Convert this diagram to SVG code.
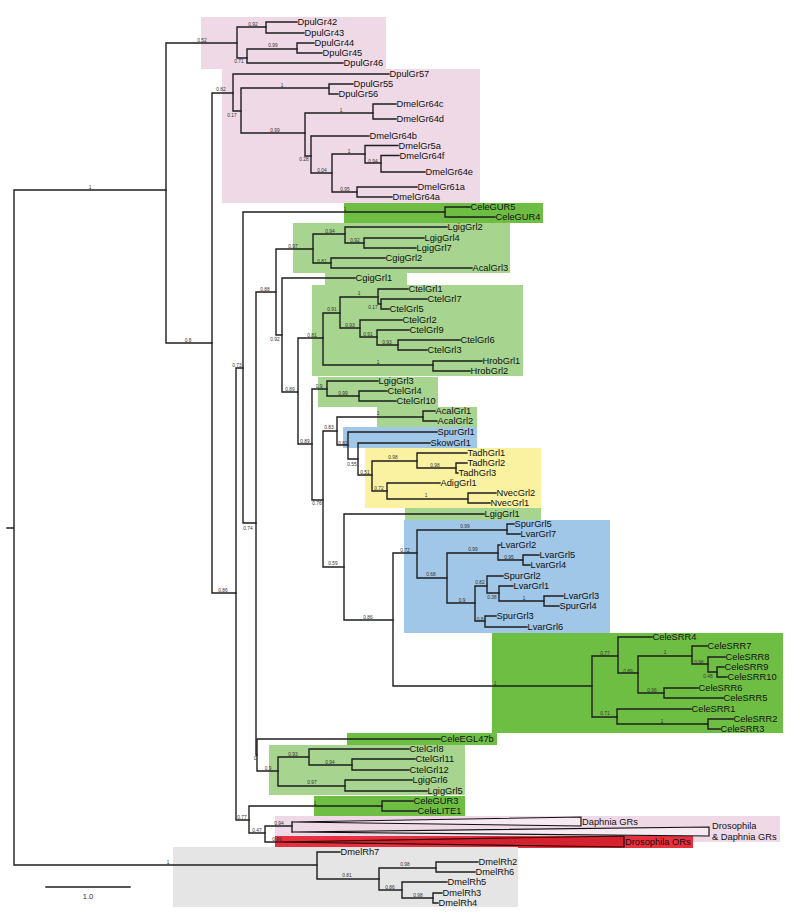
<svg xmlns="http://www.w3.org/2000/svg" width="800" height="923" viewBox="0 0 800 923">
<style>
.br{fill:none;stroke:#1e1e1e;stroke-width:1.4;stroke-linecap:square}
.lf{font-family:"Liberation Sans",Arial,sans-serif;font-size:9.3px;fill:#111}
.sp{font-family:"Liberation Sans",Arial,sans-serif;font-size:4.8px;fill:#333;text-anchor:middle}
.pk{fill:#efd9e6}.dg{fill:#6fbe44}.lg{fill:#a7d48f}.bl{fill:#a0c6e8}.ye{fill:#faf2a1}.gy{fill:#e5e5e5}.rd{fill:#e7303e}
</style>
<rect width="800" height="923" fill="#fff"/>
<g id="clade-boxes">
<rect class="pk" x="201" y="17" width="185" height="52"/>
<rect class="pk" x="222" y="69" width="258" height="134"/>
<rect class="dg" x="344" y="203" width="199" height="20"/>
<rect class="lg" x="293" y="223" width="217" height="50"/>
<rect class="lg" x="325" y="273" width="82" height="12"/>
<rect class="lg" x="312" y="285" width="211" height="91"/>
<rect class="lg" x="318" y="377" width="120" height="30"/>
<rect class="lg" x="377" y="407" width="100" height="20"/>
<rect class="bl" x="343" y="427" width="134" height="21"/>
<rect class="ye" x="365" y="448" width="176" height="60"/>
<rect class="lg" x="405" y="508" width="136" height="12"/>
<rect class="bl" x="404" y="520" width="206" height="113"/>
<rect class="dg" x="492" y="633" width="291" height="100"/>
<rect class="dg" x="347" y="733" width="150" height="12"/>
<rect class="lg" x="269" y="745" width="196" height="50"/>
<rect class="dg" x="314" y="796" width="151" height="20"/>
<rect class="pk" x="275" y="816" width="505" height="26"/>
<rect class="rd" x="275" y="836" width="418" height="12"/>
<rect class="gy" x="173" y="847" width="345" height="60"/>
</g>
<g id="connectors" class="br">
<path d="M7,528H14 M14,190V865 M14,190H166 M14,865H317"/>
<path d="M166,43V343 M166,43H237 M166,343H212"/>
<path d="M237,27V58 M237,27H266 M237,58H247"/>
<path d="M266,22V33 M266,22H297 M266,33H304"/>
<path d="M247,49V63 M247,49H297 M247,63H343"/>
<path d="M297,43V53 M297,43H314 M297,53H322"/>
<path d="M212,93V593 M212,93H233 M212,593H236"/>
<path d="M233,74V111 M233,74H389 M233,111H241"/>
<path d="M241,88V133 M241,88H329 M241,133H305"/>
<path d="M329,84V94 M329,84H353 M329,94H338"/>
<path d="M305,113V156 M305,113H373 M305,156H311"/>
<path d="M373,104V119 M373,104H396 M373,119H396"/>
<path d="M311,136V173 M311,136H369 M311,173H332"/>
<path d="M332,154V192 M332,154H365 M332,192H357"/>
<path d="M365,145.5V163 M365,145.5H398 M365,163H381"/>
<path d="M381,155.5V172 M381,155.5H399 M381,172H425"/>
<path d="M357,187V197 M357,187H417 M357,197H392"/>
<path d="M236,368V820 M236,368H243 M236,820H249"/>
<path d="M243,212V523 M243,212H445 M243,523H256"/>
<path d="M445,207V217 M445,207H470 M445,217H495"/>
<path d="M256,292V755 M256,292H276 M256,755H257"/>
<path d="M257,739V771 M257,739H440 M257,771H278"/>
<path d="M278,757V786 M278,757H309 M278,786H345"/>
<path d="M309,749V765 M309,749H409 M309,765H352"/>
<path d="M352,759V770 M352,759H415 M352,770H409"/>
<path d="M345,780V791 M345,780H412 M345,791H427"/>
<path d="M249,806V833 M249,806H382 M249,833H265"/>
<path d="M382,801V811 M382,801H413 M382,811H417"/>
<path d="M265,826V842 M265,826H292 M265,842H276"/>
<path d="M292,822V832"/>
<path d="M276,249V335 M276,249H313 M276,335H282"/>
<path d="M313,234V263 M313,234H345 M313,263H331"/>
<path d="M345,227V243 M345,227H447 M345,243H364"/>
<path d="M364,238V248 M364,238H424 M364,248H416"/>
<path d="M331,258V268 M331,258H385 M331,268H472"/>
<path d="M282,278V392 M282,278H355 M282,392H298"/>
<path d="M298,338V444 M298,338H323 M298,444H312"/>
<path d="M323,313V365 M323,313H340 M323,365H433"/>
<path d="M340,297V328 M340,297H378 M340,328H360"/>
<path d="M378,289V304 M378,289H408 M378,304H381"/>
<path d="M381,299V309 M381,299H427 M381,309H389"/>
<path d="M360,320V337 M360,320H402 M360,337H377"/>
<path d="M377,330V345 M377,330H409 M377,345H398"/>
<path d="M398,340V350 M398,340H460 M398,350H427"/>
<path d="M433,361V371 M433,361H482 M433,371H470"/>
<path d="M312,389V500 M312,389H327 M312,500H323"/>
<path d="M327,381V396 M327,381H378 M327,396H359"/>
<path d="M359,391V401 M359,391H387 M359,401H396"/>
<path d="M323,431V567 M323,431H337 M323,567H344"/>
<path d="M337,417V445 M337,417H423 M337,445H348"/>
<path d="M423,411V421 M423,411H435 M423,421H437"/>
<path d="M348,432V459 M348,432H437 M348,459H358"/>
<path d="M358,443V475 M358,443H430 M358,475H372"/>
<path d="M372,461V491 M372,461H417 M372,491H387"/>
<path d="M417,453V468 M417,453H467 M417,468H456"/>
<path d="M456,463V473 M456,463H467 M456,473H458"/>
<path d="M387,483V499 M387,483H440 M387,499H468"/>
<path d="M468,493V503 M468,493H496 M468,503H490"/>
<path d="M344,514V620 M344,514H484 M344,620H393"/>
<path d="M393,553V686 M393,553H417 M393,686H592"/>
<path d="M417,530V578 M417,530H507 M417,578H447"/>
<path d="M507,524V534 M507,524H514 M507,534H520"/>
<path d="M447,553V603 M447,553H498 M447,603H475"/>
<path d="M498,545V560 M498,545H500 M498,560H523"/>
<path d="M523,555V565 M523,555H539 M523,565H530"/>
<path d="M475,586V621 M475,586H487 M475,621H485"/>
<path d="M487,576V593 M487,576H503 M487,593H499"/>
<path d="M499,586V601 M499,586H513 M499,601H544"/>
<path d="M544,596V606 M544,596H563 M544,606H559"/>
<path d="M485,616V627 M485,616H496 M485,627H527"/>
<path d="M592,656V717 M592,656H618 M592,717H617"/>
<path d="M618,637V673 M618,637H652 M618,673H638"/>
<path d="M638,656V693 M638,656H692 M638,693H664"/>
<path d="M692,646V664 M692,646H707 M692,664H708"/>
<path d="M708,657V672 M708,657H725 M708,672H717"/>
<path d="M717,667V677 M717,667H724 M717,677H727"/>
<path d="M664,688V698 M664,688H698 M664,698H723"/>
<path d="M617,709V724 M617,709H691 M617,724H708"/>
<path d="M708,719V729 M708,719H733 M708,729H720"/>
<path d="M317,852V879 M317,852H340 M317,879H379"/>
<path d="M379,868V890 M379,868H436 M379,890H402"/>
<path d="M436,862V872 M436,862H478 M436,872H475"/>
<path d="M402,882V898 M402,882H447 M402,898H433"/>
<path d="M433,893V903 M433,893H442 M433,903H438"/>
<path d="M46,887H130"/>
</g>
<g id="collapsed">
<g id="daphnia-grs"><polygon points="292,822 581,817 581,826" fill="#f6e9f1" stroke="#111" stroke-width="1.2"/><text class="lf" x="582" y="825.3">Daphnia GRs</text></g>
<g id="drosophila-daphnia-grs"><polygon points="292,832 709,827 709,836" fill="#f6e9f1" stroke="#111" stroke-width="1.2"/><text class="lf" x="712" y="829.3">Drosophila</text><text class="lf" x="712" y="840.3">&amp; Daphnia GRs</text></g>
<g id="drosophila-ors"><polygon points="276,842 624,836 624,847" fill="#d42230" stroke="#2a0505" stroke-width="1.2"/><text class="lf" x="625" y="845.3" fill="#5c0a12">Drosophila ORs</text></g>
</g>
<g id="leaves" class="lf">
<g id="DpulGr42"><text x="297.5" y="25.3">DpulGr42</text></g>
<g id="DpulGr43"><text x="304.5" y="36.3">DpulGr43</text></g>
<g id="DpulGr44"><text x="314.5" y="46.3">DpulGr44</text></g>
<g id="DpulGr45"><text x="322.5" y="56.3">DpulGr45</text></g>
<g id="DpulGr46"><text x="343.5" y="66.3">DpulGr46</text></g>
<g id="DpulGr57"><text x="389.5" y="77.3">DpulGr57</text></g>
<g id="DpulGr55"><text x="353.5" y="87.3">DpulGr55</text></g>
<g id="DpulGr56"><text x="338.5" y="97.3">DpulGr56</text></g>
<g id="DmelGr64c"><text x="396.5" y="107.3">DmelGr64c</text></g>
<g id="DmelGr64d"><text x="396.5" y="122.3">DmelGr64d</text></g>
<g id="DmelGr64b"><text x="369.5" y="139.3">DmelGr64b</text></g>
<g id="DmelGr5a"><text x="398.5" y="148.8">DmelGr5a</text></g>
<g id="DmelGr64f"><text x="399.5" y="158.8">DmelGr64f</text></g>
<g id="DmelGr64e"><text x="425.5" y="175.3">DmelGr64e</text></g>
<g id="DmelGr61a"><text x="417.5" y="190.3">DmelGr61a</text></g>
<g id="DmelGr64a"><text x="392.5" y="200.3">DmelGr64a</text></g>
<g id="CeleGUR5"><text x="470.5" y="210.3">CeleGUR5</text></g>
<g id="CeleGUR4"><text x="495.5" y="220.3">CeleGUR4</text></g>
<g id="LgigGrl2"><text x="447.5" y="230.3">LgigGrl2</text></g>
<g id="LgigGrl4"><text x="424.5" y="241.3">LgigGrl4</text></g>
<g id="LgigGrl7"><text x="416.5" y="251.3">LgigGrl7</text></g>
<g id="CgigGrl2"><text x="385.5" y="261.3">CgigGrl2</text></g>
<g id="AcalGrl3"><text x="472.5" y="271.3">AcalGrl3</text></g>
<g id="CgigGrl1"><text x="355.5" y="281.3">CgigGrl1</text></g>
<g id="CtelGrl1"><text x="408.5" y="292.3">CtelGrl1</text></g>
<g id="CtelGrl7"><text x="427.5" y="302.3">CtelGrl7</text></g>
<g id="CtelGrl5"><text x="389.5" y="312.3">CtelGrl5</text></g>
<g id="CtelGrl2"><text x="402.5" y="323.3">CtelGrl2</text></g>
<g id="CtelGrl9"><text x="409.5" y="333.3">CtelGrl9</text></g>
<g id="CtelGrl6"><text x="460.5" y="343.3">CtelGrl6</text></g>
<g id="CtelGrl3"><text x="427.5" y="353.3">CtelGrl3</text></g>
<g id="HrobGrl1"><text x="482.5" y="364.3">HrobGrl1</text></g>
<g id="HrobGrl2"><text x="470.5" y="374.3">HrobGrl2</text></g>
<g id="LgigGrl3"><text x="378.5" y="384.3">LgigGrl3</text></g>
<g id="CtelGrl4"><text x="387.5" y="394.3">CtelGrl4</text></g>
<g id="CtelGrl10"><text x="396.5" y="404.3">CtelGrl10</text></g>
<g id="AcalGrl1"><text x="435.5" y="414.3">AcalGrl1</text></g>
<g id="AcalGrl2"><text x="437.5" y="424.3">AcalGrl2</text></g>
<g id="SpurGrl1"><text x="437.5" y="435.3">SpurGrl1</text></g>
<g id="SkowGrl1"><text x="430.5" y="446.3">SkowGrl1</text></g>
<g id="TadhGrl1"><text x="467.5" y="456.3">TadhGrl1</text></g>
<g id="TadhGrl2"><text x="467.5" y="466.3">TadhGrl2</text></g>
<g id="TadhGrl3"><text x="458.5" y="476.3">TadhGrl3</text></g>
<g id="AdigGrl1"><text x="440.5" y="486.3">AdigGrl1</text></g>
<g id="NvecGrl2"><text x="496.5" y="496.3">NvecGrl2</text></g>
<g id="NvecGrl1"><text x="490.5" y="506.3">NvecGrl1</text></g>
<g id="LgigGrl1"><text x="484.5" y="517.3">LgigGrl1</text></g>
<g id="SpurGrl5"><text x="514.5" y="527.3">SpurGrl5</text></g>
<g id="LvarGrl7"><text x="520.5" y="537.3">LvarGrl7</text></g>
<g id="LvarGrl2"><text x="500.5" y="548.3">LvarGrl2</text></g>
<g id="LvarGrl5"><text x="539.5" y="558.3">LvarGrl5</text></g>
<g id="LvarGrl4"><text x="530.5" y="568.3">LvarGrl4</text></g>
<g id="SpurGrl2"><text x="503.5" y="579.3">SpurGrl2</text></g>
<g id="LvarGrl1"><text x="513.5" y="589.3">LvarGrl1</text></g>
<g id="LvarGrl3"><text x="563.5" y="599.3">LvarGrl3</text></g>
<g id="SpurGrl4"><text x="559.5" y="609.3">SpurGrl4</text></g>
<g id="SpurGrl3"><text x="496.5" y="619.3">SpurGrl3</text></g>
<g id="LvarGrl6"><text x="527.5" y="630.3">LvarGrl6</text></g>
<g id="CeleSRR4"><text x="652.5" y="640.3">CeleSRR4</text></g>
<g id="CeleSRR7"><text x="707.5" y="649.3">CeleSRR7</text></g>
<g id="CeleSRR8"><text x="725.5" y="660.3">CeleSRR8</text></g>
<g id="CeleSRR9"><text x="724.5" y="670.3">CeleSRR9</text></g>
<g id="CeleSRR10"><text x="727.5" y="680.3">CeleSRR10</text></g>
<g id="CeleSRR6"><text x="698.5" y="691.3">CeleSRR6</text></g>
<g id="CeleSRR5"><text x="723.5" y="701.3">CeleSRR5</text></g>
<g id="CeleSRR1"><text x="691.5" y="712.3">CeleSRR1</text></g>
<g id="CeleSRR2"><text x="733.5" y="722.3">CeleSRR2</text></g>
<g id="CeleSRR3"><text x="720.5" y="732.3">CeleSRR3</text></g>
<g id="CeleEGL47b"><text x="440.5" y="742.3">CeleEGL47b</text></g>
<g id="CtelGrl8"><text x="409.5" y="752.3">CtelGrl8</text></g>
<g id="CtelGrl11"><text x="415.5" y="762.3">CtelGrl11</text></g>
<g id="CtelGrl12"><text x="409.5" y="773.3">CtelGrl12</text></g>
<g id="LgigGrl6"><text x="412.5" y="783.3">LgigGrl6</text></g>
<g id="LgigGrl5"><text x="427.5" y="794.3">LgigGrl5</text></g>
<g id="CeleGUR3"><text x="413.5" y="804.3">CeleGUR3</text></g>
<g id="CeleLITE1"><text x="417.5" y="814.3">CeleLITE1</text></g>
<g id="DmelRh7"><text x="340.5" y="855.3">DmelRh7</text></g>
<g id="DmelRh2"><text x="478.5" y="865.3">DmelRh2</text></g>
<g id="DmelRh6"><text x="475.5" y="875.3">DmelRh6</text></g>
<g id="DmelRh5"><text x="447.5" y="885.3">DmelRh5</text></g>
<g id="DmelRh3"><text x="442.5" y="896.3">DmelRh3</text></g>
<g id="DmelRh4"><text x="438.5" y="906.3">DmelRh4</text></g>
</g>
<g id="support-values" class="sp">
<text x="90" y="188.7">1</text><text x="168" y="863.7">1</text>
<text x="202" y="41.7">0.52</text><text x="188" y="341.7">0.8</text>
<text x="253" y="25.7">0.92</text><text x="239" y="62.7">0.71</text>
<text x="273" y="46.7">0.99</text><text x="221" y="90.7">0.82</text>
<text x="223" y="591.7">0.86</text><text x="232" y="116.7">0.17</text>
<text x="282" y="86.7">1</text><text x="275" y="131.7">0.99</text>
<text x="304" y="160.7">0.28</text><text x="341" y="111.7">1</text>
<text x="322" y="171.7">0.04</text><text x="349" y="152.7">1</text>
<text x="345" y="190.7">0.95</text><text x="373" y="162.7">0.94</text>
<text x="237" y="366.7">0.73</text><text x="242" y="818.7">0.77</text>
<text x="345" y="210.7">1</text><text x="248" y="529.7">0.74</text>
<text x="265" y="290.7">0.88</text><text x="255" y="759.7">0</text>
<text x="268" y="769.7">0.9</text><text x="293" y="755.7">0.93</text>
<text x="312" y="783.7">0.97</text><text x="330" y="763.7">0.94</text>
<text x="315" y="804.7">1</text><text x="257" y="831.7">0.47</text>
<text x="279" y="824.7">0.94</text><text x="277" y="841.2">0.99</text>
<text x="293" y="247.7">0.97</text><text x="275" y="340.7">0.92</text>
<text x="330" y="232.7">0.94</text><text x="322" y="262.7">0.81</text>
<text x="355" y="241.7">0.92</text><text x="290" y="390.7">0.89</text>
<text x="312" y="336.7">0.81</text><text x="305" y="442.7">0.89</text>
<text x="332" y="310.7">0.91</text><text x="378" y="363.7">1</text>
<text x="359" y="294.7">1</text><text x="350" y="326.7">0.93</text>
<text x="373" y="308.7">0.17</text><text x="368" y="335.7">0.91</text>
<text x="387" y="343.7">0.93</text><text x="319" y="387.7">0.9</text>
<text x="317" y="504.7">0.76</text><text x="343" y="394.7">0.99</text>
<text x="329" y="428.7">0.83</text><text x="333" y="564.7">0.59</text>
<text x="378" y="414.7">1</text><text x="343" y="444.7">0.82</text>
<text x="352" y="465.7">0.55</text><text x="365" y="473.7">0.51</text>
<text x="393" y="458.7">0.98</text><text x="379" y="489.7">0.72</text>
<text x="435" y="466.7">0.98</text><text x="426" y="496.7">1</text>
<text x="368" y="618.7">0.86</text><text x="405" y="551.7">0.72</text>
<text x="495" y="684.7">1</text><text x="465" y="527.7">0.99</text>
<text x="431" y="575.7">0.68</text><text x="473" y="550.7">0.99</text>
<text x="462" y="601.7">0.9</text><text x="509" y="558.7">0.95</text>
<text x="480" y="583.7">0.82</text><text x="480" y="620.7">0.8</text>
<text x="492" y="598.7">0.38</text><text x="524" y="599.7">1</text>
<text x="605" y="654.7">0.77</text><text x="605" y="714.7">0.71</text>
<text x="628" y="672.7">0.89</text><text x="665" y="653.7">1</text>
<text x="652" y="691.7">0.96</text><text x="699" y="663.7">0.96</text>
<text x="708" y="677.7">0.48</text><text x="662" y="722.7">1</text>
<text x="347" y="876.7">0.81</text><text x="405" y="865.7">0.98</text>
<text x="390" y="888.7">0.86</text><text x="418" y="896.7">0.98</text>
</g>
<g id="scale-bar"><text x="88" y="899" font-family="Liberation Sans, Arial, sans-serif" font-size="7.5" fill="#333" text-anchor="middle">1.0</text></g>
</svg>
